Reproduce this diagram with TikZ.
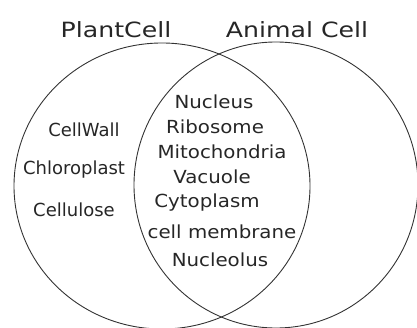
\documentclass[tikz,border=0pt]{standalone}
\usepackage{fontspec}
\setmainfont{DejaVu Sans}
\begin{document}
\begin{tikzpicture}[x=1pt,y=-1pt,
  ring/.style={draw=black!80,line width=0.9pt},
  lbl/.style={font=\fontsize{21}{24}\selectfont\addfontfeature{FakeStretch=1.2}, text=black!85, inner sep=0pt},
  item/.style={font=\fontsize{18}{21}\selectfont\addfontfeature{FakeStretch=1.1}, text=black!85, inner sep=0pt},
  sideitem/.style={font=\fontsize{18}{21}\selectfont, text=black!85, inner sep=0pt}]
\useasboundingbox (0,0) rectangle (417,328);
\draw[ring] (162,186) ellipse [x radius=148, y radius=143];
\draw[ring] (276,185) ellipse [x radius=142, y radius=143];
\node[lbl] (plant) at (116,30) {PlantCell};
\node[lbl] (animal) at (297,30) {Animal Cell};
\node[sideitem] (wall) at (84,130) {CellWall};
\node[sideitem] (chloro) at (74,170) {Chloroplast};
\node[sideitem] (cellu) at (74,210) {Cellulose};
\node[item] (nuc) at (214,102) {Nucleus};
\node[item] (ribo) at (215,127) {Ribosome};
\node[item] (mito) at (222,152) {Mitochondria};
\node[item] (vac) at (212,177) {Vacuole};
\node[item] (cyto) at (207,203) {Cytoplasm};
\node[item] (memb) at (222,232) {cell membrane};
\node[item] (nucleo) at (220,260) {Nucleolus};
\end{tikzpicture}
\end{document}
